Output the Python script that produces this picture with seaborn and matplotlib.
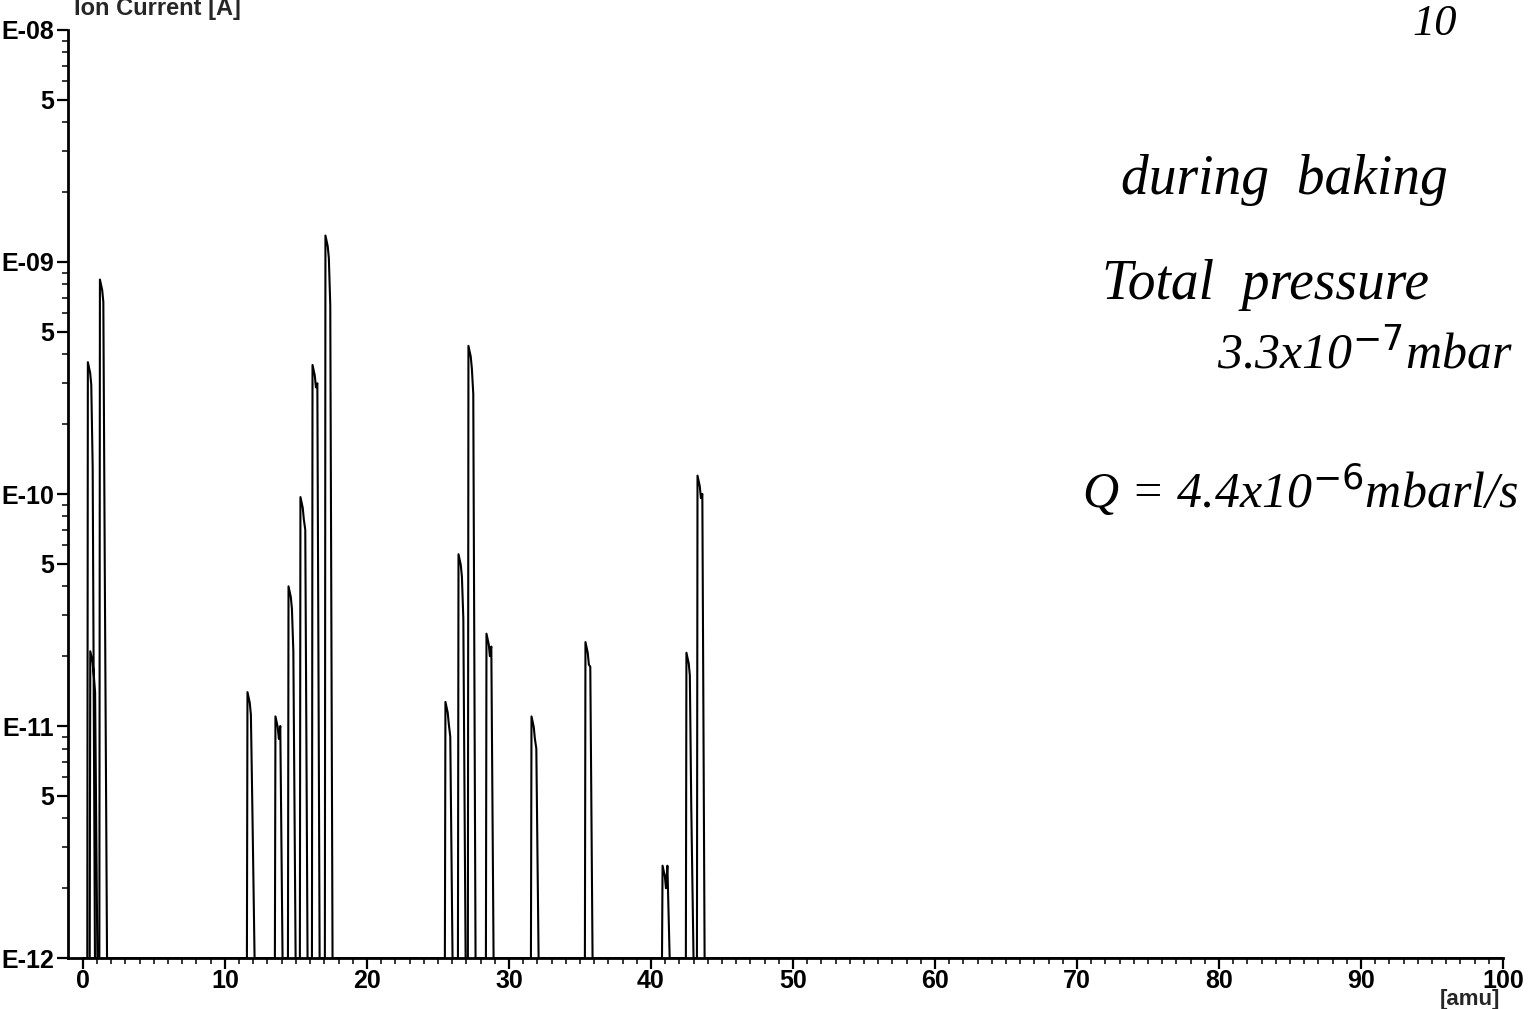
import numpy as np
import pandas as pd
import matplotlib
matplotlib.use("Agg")
import matplotlib.pyplot as plt
from matplotlib.ticker import FixedLocator, FixedFormatter, NullFormatter
import seaborn as sns

# Mass spectrum peaks: apparent position [amu], peak top [A], step/shoulder level [A]
peak_mass = [0.45, 0.62, 1.30, 11.69, 13.66, 14.58, 15.42, 16.27, 17.18,
             25.63, 26.55, 27.25, 28.52, 31.69, 35.49, 40.92, 42.60, 43.38]
peak_top = [3.7e-10, 2.1e-11, 8.4e-10, 1.4e-11, 1.1e-11, 4.0e-11, 9.7e-11, 3.6e-10, 1.3e-9,
            1.27e-11, 5.5e-11, 4.35e-10, 2.5e-11, 1.1e-11, 2.3e-11, 2.5e-12, 2.07e-11, 1.2e-10]
peak_shoulder = [1.3e-10, 1.4e-11, 5.0e-11, 4.6e-12, 1.0e-11, 2.1e-11, 7.0e-11, 3.0e-10, 6.5e-10,
                 9.0e-12, 2.9e-11, 2.7e-10, 2.2e-11, 8.0e-12, 1.8e-11, 2.5e-12, 4.5e-12, 1.0e-10]
baseline = 1e-12
mass_range = [0, 100]

y_tick_values = [1e-12, 1e-11, 1e-10, 1e-9, 1e-8, 5e-12, 5e-11, 5e-10, 5e-9]
y_tick_labels = ["E-12", "E-11", "E-10", "E-09", "E-08", "5", "5", "5", "5"]
x_tick_values = [0, 10, 20, 30, 40, 50, 60, 70, 80, 90, 100]

# Build the detector trace: baseline with a narrow spike per peak
xs, ys = [mass_range[0]], [baseline]
for m, top, sh in zip(peak_mass, peak_top, peak_shoulder):
    xs += [m - 0.14, m - 0.10, m + 0.06, m + 0.14, m + 0.24, m + 0.40]
    ys += [baseline, top, top * 0.9, top * 0.8, sh, baseline]
xs.append(mass_range[1])
ys.append(baseline)
trace = pd.DataFrame({"mass": xs, "current": ys})

sns.set_style("ticks")
plt.rcParams["font.family"] = ["Liberation Sans Narrow", "Liberation Sans", "DejaVu Sans"]

fig = plt.figure(figsize=(15.31, 10.09), dpi=100)
ax = fig.add_axes([0.0444, 0.0505, 0.9373, 0.9198])

sns.lineplot(data=trace, x="mass", y="current", sort=False, estimator=None,
             color="black", linewidth=1.5, ax=ax)

ax.set_yscale("log")
ax.set_ylim(1e-12, 1e-8)
ax.set_xlim(-1.05, 100)

# y axis: decades labelled E-xx, 5s labelled, other minors unlabelled
decades = [1e-12, 1e-11, 1e-10, 1e-9, 1e-8]
ax.yaxis.set_major_locator(FixedLocator(y_tick_values))
ax.yaxis.set_major_formatter(FixedFormatter(y_tick_labels))
minor_y = [k * d for d in decades[:-1] for k in (2, 3, 4, 6, 7, 8, 9)]
ax.yaxis.set_minor_locator(FixedLocator(minor_y))
ax.yaxis.set_minor_formatter(NullFormatter())

ax.xaxis.set_major_locator(FixedLocator(x_tick_values))
ax.xaxis.set_major_formatter(FixedFormatter([str(v) for v in x_tick_values]))
ax.xaxis.set_minor_locator(FixedLocator([v for v in range(1, 100) if v % 10 != 0]))

ax.tick_params(axis="both", which="major", direction="out", length=8, width=1.6,
               labelsize=18, colors="black")
ax.tick_params(axis="both", which="minor", direction="out", length=4, width=1.3)
ax.tick_params(axis="y", which="major", pad=2)
ax.tick_params(axis="x", which="major", pad=0)
for lbl in ax.get_xticklabels() + ax.get_yticklabels():
    lbl.set_fontweight("bold")

for side in ("top", "right"):
    ax.spines[side].set_visible(False)
for side in ("left", "bottom"):
    ax.spines[side].set_linewidth(2.0)
    ax.spines[side].set_color("black")

ax.set_xlabel("")
ax.set_ylabel("")

fig.text(157 / 1531, 1 - 9 / 1009, "Ion Current [A]", ha="center", va="center",
         fontsize=17, fontweight="bold")
fig.text(1470 / 1531, 1 - 1000 / 1009, "[amu]", ha="center", va="center",
         fontsize=16, fontweight="bold")

# Hand-written notes
hand = dict(family=["Liberation Serif", "DejaVu Serif"], style="italic", color="black")
fig.text(1435 / 1531, 1 - 24 / 1009, "10", ha="center", va="center", fontsize=32, **hand)
fig.text(1284 / 1531, 1 - 180 / 1009, "during  baking", ha="center", va="center",
         fontsize=40, **hand)
fig.text(1265 / 1531, 1 - 285 / 1009, "Total  pressure", ha="center", va="center",
         fontsize=40, **hand)
fig.text(1365 / 1531, 1 - 355 / 1009, r"3.3x10$^{-7}$mbar", ha="center", va="center",
         fontsize=36, **hand)
fig.text(1300 / 1531, 1 - 490 / 1009, r"Q = 4.4x10$^{-6}$mbarl/s", ha="center", va="center",
         fontsize=36, **hand)

fig.savefig("out.png", dpi=100, facecolor="white")
